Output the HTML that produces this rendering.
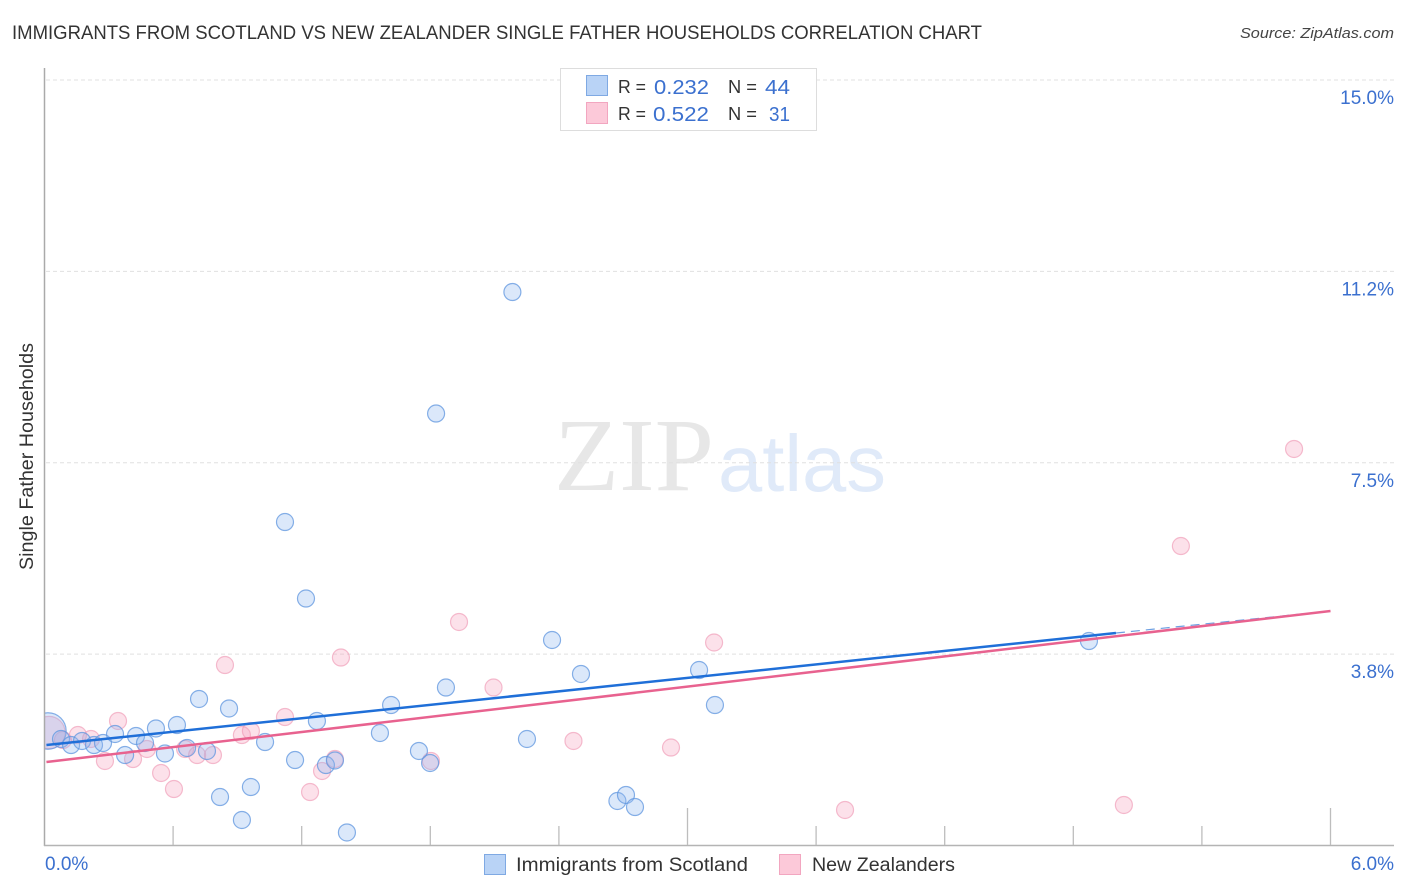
<!DOCTYPE html>
<html lang="en">
<head>
<meta charset="utf-8">
<title>Immigrants from Scotland vs New Zealander Single Father Households Correlation Chart</title>
<style>
html,body{margin:0;padding:0;background:#fff;width:1406px;height:892px;overflow:hidden}
svg{display:block;font-family:"Liberation Sans",sans-serif}
</style>
</head>
<body>
<svg id="chart" xmlns="http://www.w3.org/2000/svg" width="1406" height="892" viewBox="0 0 1406 892">
  <rect x="0" y="0" width="1406" height="892" fill="#ffffff"/>
  <text x="12" y="39" font-size="19.5" fill="#333333" textLength="970" lengthAdjust="spacingAndGlyphs">IMMIGRANTS FROM SCOTLAND VS NEW ZEALANDER SINGLE FATHER HOUSEHOLDS CORRELATION CHART</text>
  <text x="1394" y="38" font-size="15" font-style="italic" fill="#444444" text-anchor="end" textLength="154" lengthAdjust="spacingAndGlyphs">Source: ZipAtlas.com</text>

  <g>
    <text x="554" y="490" font-family="'Liberation Serif',serif" font-size="104" fill="#e7e7e7" textLength="160" lengthAdjust="spacingAndGlyphs">ZIP</text>
    <text x="718" y="491" font-size="80" fill="#e0eaf9" textLength="168" lengthAdjust="spacingAndGlyphs">atlas</text>
  </g>

  <g id="grid"></g>
  <g id="pink-points"></g>
  <g id="blue-points"></g>
  <rect x="20" y="700" width="25" height="64" fill="#ffffff"/>
  <g id="axes"></g>
  <g id="trends"></g>
  <g id="tick-labels"></g>

  <text transform="translate(33,570) rotate(-90)" font-size="19" fill="#333333" textLength="227" lengthAdjust="spacingAndGlyphs">Single Father Households</text>

  <g>
    <rect x="560.5" y="68.5" width="256" height="62" fill="#ffffff" stroke="#dddddd" stroke-width="1"/>
    <rect x="586.5" y="75.5" width="21" height="20" fill="#b9d3f6" stroke="#7fa9e3" stroke-width="1"/>
    <rect x="586.5" y="102.5" width="21" height="21" fill="#fcc9d9" stroke="#f2a6c0" stroke-width="1"/>
    <text x="618" y="93" font-size="18" fill="#333333" textLength="28" lengthAdjust="spacingAndGlyphs">R =</text>
    <text x="654" y="94" font-size="20.5" fill="#3b70cf" textLength="55" lengthAdjust="spacingAndGlyphs">0.232</text>
    <text x="728" y="93" font-size="18" fill="#333333" textLength="29" lengthAdjust="spacingAndGlyphs">N =</text>
    <text x="765" y="94" font-size="20.5" fill="#3b70cf" textLength="25" lengthAdjust="spacingAndGlyphs">44</text>
    <text x="618" y="120" font-size="18" fill="#333333" textLength="28" lengthAdjust="spacingAndGlyphs">R =</text>
    <text x="653" y="121" font-size="20.5" fill="#3b70cf" textLength="56" lengthAdjust="spacingAndGlyphs">0.522</text>
    <text x="728" y="120" font-size="18" fill="#333333" textLength="29" lengthAdjust="spacingAndGlyphs">N =</text>
    <text x="769" y="121" font-size="20.5" fill="#3b70cf" textLength="21" lengthAdjust="spacingAndGlyphs">31</text>
  </g>

  <g>
    <rect x="484.5" y="854.5" width="21" height="20" fill="#b9d3f6" stroke="#7fa9e3" stroke-width="1"/>
    <text x="516" y="871" font-size="19" fill="#333333" textLength="232" lengthAdjust="spacingAndGlyphs">Immigrants from Scotland</text>
    <rect x="779.5" y="854.5" width="21" height="20" fill="#fcc9d9" stroke="#f2a6c0" stroke-width="1"/>
    <text x="812" y="871" font-size="19" fill="#333333" textLength="143" lengthAdjust="spacingAndGlyphs">New Zealanders</text>
  </g>
</svg>
<script>
// Y tick values and printed labels
const yTickValues = [15.0, 11.25, 7.5, 3.75];
const yTickLabels = ["15.0%", "11.2%", "7.5%", "3.8%"];
// X tick values and printed labels
const xTickValues = [0, 0.6, 1.2, 1.8, 2.4, 3.0, 3.6, 4.2, 4.8, 5.4, 6.0];
const xMajorTicks = [0, 3.0, 6.0];
const xEndValues = [0, 6.0];
const xEndLabels = ["0.0%", "6.0%"];

// Immigrants from Scotland
const scotlandX = [0.016,0.077,0.124,0.175,0.231,0.273,0.329,0.376,0.427,0.469,0.520,0.562,0.618,0.665,0.721,0.758,0.861,0.819,0.963,0.921,1.029,1.169,1.271,1.313,1.355,1.411,1.122,1.220,1.827,2.183,1.617,1.565,1.747,1.799,1.873,2.251,2.673,2.713,2.755,3.128,2.368,2.503,3.054,4.873];
const scotlandY = [2.244,2.087,1.969,2.048,1.969,2.009,2.185,1.773,2.146,2.009,2.293,1.803,2.361,1.911,2.871,1.852,2.685,0.950,1.146,0.500,2.028,1.675,2.440,1.577,1.666,0.255,6.339,4.840,8.465,10.846,2.753,2.205,1.852,1.617,3.096,2.087,0.872,0.990,0.754,2.753,4.027,3.361,3.439,4.007];
const scotlandWeight = [4.6,1,1,1,1,1,1,1,1,1,1,1,1,1,1,1,1,1,1,1,1,1,1,1,1,1,1,1,1,1,1,1,1,1,1,1,1,1,1,1,1,1,1,1];

// New Zealanders
const zealandX = [0.021,0.343,0.156,0.086,0.217,0.282,0.413,0.478,0.544,0.604,0.656,0.712,0.786,0.921,0.963,1.122,1.239,1.295,1.355,0.842,1.383,1.934,2.095,2.468,2.923,3.124,3.735,5.036,5.302,5.830,1.803];
const zealandY = [2.214,2.440,2.165,2.067,2.087,1.656,1.695,1.891,1.421,1.107,1.891,1.773,1.773,2.165,2.244,2.518,1.048,1.460,1.695,3.537,3.684,4.380,3.096,2.048,1.920,3.978,0.696,0.794,5.869,7.770,1.656];
const zealandWeight = [3.6,1,1,1,1,1,1,1,1,1,1,1,1,1,1,1,1,1,1,1,1,1,1,1,1,1,1,1,1,1,1];

// Trend lines
const scotlandTrendX = [0.009, 4.999];
const scotlandTrendY = [1.969, 4.164];
const scotlandExtendX = [4.999, 6.0];
const scotlandExtendY = [4.164, 4.595];
const zealandTrendX = [0.009, 6.0];
const zealandTrendY = [1.636, 4.595];

const SVG_NS = "http://www.w3.org/2000/svg";
function xScale(v) { return 44.5 + v * (1286 / 6); }
function yScale(v) { return 845.5 - v * 51.03; }
function radius(weight) { return 8.5 * Math.sqrt(weight); }
function make(tag, attrs, parent) {
  const el = document.createElementNS(SVG_NS, tag);
  for (const k in attrs) el.setAttribute(k, attrs[k]);
  parent.appendChild(el);
  return el;
}

const grid = document.getElementById("grid");
yTickValues.forEach(function (v) {
  const line = make("line", {x1: 46, x2: 1394, y1: yScale(v), y2: yScale(v), stroke: "#e0e0e0", "stroke-width": 1, "stroke-dasharray": "4 3"}, grid);
  
  
});

const axes = document.getElementById("axes");
const yAxis = make("line", {x1: 44.5, x2: 44.5, y1: 68, y2: 846, stroke: "#aaaaaa", "stroke-width": 1.5}, axes);


const xAxis = make("line", {x1: 44, x2: 1394, y1: 845.5, y2: 845.5, stroke: "#b4b4b4", "stroke-width": 1.5}, axes);


xTickValues.forEach(function (v) {
  if (v === 0) return;
  const top = xMajorTicks.indexOf(v) >= 0 ? 808 : 826;
  const tick = make("line", {x1: xScale(v), x2: xScale(v), y1: top, y2: 845, stroke: "#bdbdbd", "stroke-width": 1.3}, axes);
  
  
});

function drawPoints(groupId, xs, ys, weights, fill, stroke, strokeOpacity, name) {
  const group = document.getElementById(groupId);
  xs.forEach(function (x, i) {
    const c = make("circle", {cx: xScale(x), cy: yScale(ys[i]), r: radius(weights[i]), fill: fill, "fill-opacity": 0.32, stroke: stroke, "stroke-opacity": strokeOpacity, "stroke-width": 1.2}, group);
    
    
  });
}
drawPoints("pink-points", zealandX, zealandY, zealandWeight, "#f7a3bd", "#ef9ab6", 0.65, "new-zealanders-point");
drawPoints("blue-points", scotlandX, scotlandY, scotlandWeight, "#8fb9ee", "#5f96df", 0.75, "scotland-point");

const trends = document.getElementById("trends");
const blueDash = make("line", {x1: xScale(scotlandExtendX[0]), x2: xScale(scotlandExtendX[1]), y1: yScale(scotlandExtendY[0]), y2: yScale(scotlandExtendY[1]), stroke: "#6d9fe2", "stroke-width": 1.2, "stroke-dasharray": "9 6"}, trends);


const blueLine = make("line", {x1: xScale(scotlandTrendX[0]), x2: xScale(scotlandTrendX[1]), y1: yScale(scotlandTrendY[0]), y2: yScale(scotlandTrendY[1]), stroke: "#1f6fd8", "stroke-width": 2.5}, trends);


const pinkLine = make("line", {x1: xScale(zealandTrendX[0]), x2: xScale(zealandTrendX[1]), y1: yScale(zealandTrendY[0]), y2: yScale(zealandTrendY[1]), stroke: "#e8628f", "stroke-width": 2.5}, trends);



const labels = document.getElementById("tick-labels");
yTickValues.forEach(function (v, i) {
  const t = make("text", {x: 1394, y: yScale(v) + 24, "font-size": 19, fill: "#3b70cf", "text-anchor": "end"}, labels);
  t.textContent = yTickLabels[i];
  
  
});
xEndValues.forEach(function (v, i) {
  const t = make("text", {x: v === 0 ? 45 : 1394, y: 870, "font-size": 19, fill: "#3b70cf", "text-anchor": v === 0 ? "start" : "end"}, labels);
  t.textContent = xEndLabels[i];
  
  
});
</script>
</body>
</html>
